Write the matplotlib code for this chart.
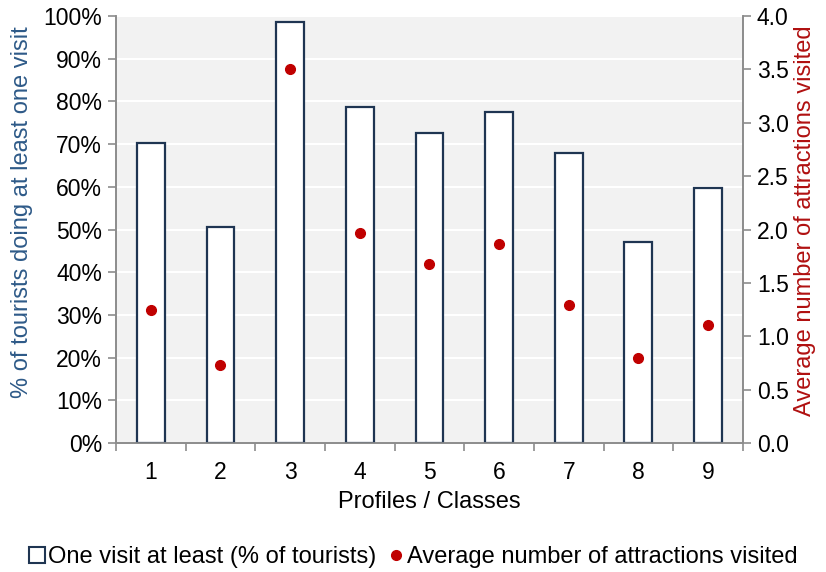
import matplotlib
matplotlib.use('Agg')
from matplotlib import pyplot as plt
from matplotlib.lines import Line2D
import numpy as np

# ********** Data **********

classes = ['1', '2', '3', '4', '5', '6', '7', '8', '9']
one_visit_pct = [70.2, 50.5, 98.5, 78.8, 72.6, 77.5, 68.0, 47.0, 59.7]
avg_attractions = [1.25, 0.73, 3.50, 1.97, 1.68, 1.86, 1.29, 0.80, 1.11]

# ********** Style **********

plt.rcParams['font.family'] = ['Liberation Sans', 'DejaVu Sans']
bar_edge = '#1f3552'
dot_color = '#c00000'
left_label_color = '#2e5a88'
right_label_color = '#b01010'
spine_color = '#8c8c8c'
tick_size = 16.5
label_size = 17

fig = plt.figure(figsize=(8.26, 5.72), dpi=100)
ax1 = fig.add_axes([0.1404, 0.2255, 0.759, 0.7465])
ax2 = ax1.twinx()

x = np.arange(len(classes))
ax1.set_facecolor('#f2f2f2')
ax1.bar(x, one_visit_pct, width=0.4, facecolor='white', edgecolor=bar_edge, linewidth=1.6, zorder=3)
ax2.plot(x, avg_attractions, linestyle='none', marker='o', markersize=7, color=dot_color, zorder=4)

ax1.set_xlim(-0.5, len(classes) - 0.5)
ax1.set_ylim(0, 100)
ax2.set_ylim(0, 4)

ax1.set_yticks(np.arange(0, 101, 10))
ax1.set_yticklabels(['{:d}%'.format(v) for v in range(0, 101, 10)])
ax2.set_yticks(np.arange(0, 4.01, 0.5))
ax2.set_yticklabels(['{:.1f}'.format(v) for v in np.arange(0, 4.01, 0.5)])

# category labels centred, tick marks at the boundaries
ax1.set_xticks(x)
ax1.set_xticklabels(classes)
ax1.set_xticks(np.arange(-0.5, len(classes), 1), minor=True)
ax1.tick_params(axis='x', which='major', length=0, pad=13, labelsize=tick_size)
ax1.tick_params(axis='x', which='minor', length=6, width=1.2, color=spine_color, direction='out')

ax1.yaxis.grid(True, color='white', linewidth=1.5, zorder=0)
ax1.set_axisbelow(True)
ax1.tick_params(axis='y', length=6, width=1.2, color=spine_color, labelsize=tick_size, pad=4)
ax2.tick_params(axis='y', length=6, width=1.2, color=spine_color, labelsize=tick_size, pad=4)

for ax in (ax1, ax2):
	ax.spines['top'].set_visible(False)
	for side in ['left', 'right', 'bottom']:
		ax.spines[side].set_color(spine_color)
		ax.spines[side].set_linewidth(1.2)

ax1.set_xlabel('Profiles / Classes', fontsize=label_size, labelpad=5)
ax1.set_ylabel('% of tourists doing at least one visit', fontsize=label_size, color=left_label_color, labelpad=4)
ax2.set_ylabel('Average number of attractions visited', fontsize=label_size, color=right_label_color, labelpad=4)
ax1.yaxis.set_label_coords(-0.132, 0.54)
ax2.yaxis.set_label_coords(1.082, 0.52)

handles = [
	Line2D([], [], linestyle='none', marker='s', markersize=11, markerfacecolor='white', markeredgecolor=bar_edge, markeredgewidth=1.5),
	Line2D([], [], linestyle='none', marker='o', markersize=7, color=dot_color),
]
labels = ['One visit at least (% of tourists)', 'Average number of attractions visited']
fig.legend(handles, labels, loc='center', bbox_to_anchor=(0.5, 0.026), ncol=2, frameon=False,
	fontsize=label_size, handletextpad=0.1, columnspacing=0.5, handlelength=0.7)

fig.savefig('out.png', dpi=100)
